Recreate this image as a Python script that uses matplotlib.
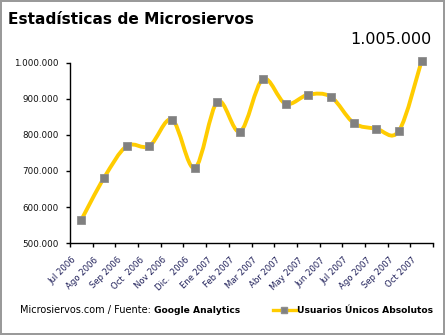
import matplotlib
matplotlib.use("Agg")
import matplotlib.pyplot as plt
import numpy as np
from matplotlib.path import Path
from matplotlib.patches import PathPatch
from matplotlib.lines import Line2D
from matplotlib.ticker import FuncFormatter, FixedLocator
from matplotlib.transforms import ScaledTranslation

# datos
meses = ["Jul 2006", "Ago 2006", "Sep 2006", "Oct  2006", "Nov 2006", "Dic.  2006",
         "Ene 2007", "Feb 2007", "Mar 2007", "Abr 2007", "May 2007", "Jun 2007",
         "Jul 2007", "Ago 2007", "Sep 2007", "Oct 2007"]
usuarios = [565000, 681000, 769000, 769000, 842000, 708000,
            892000, 809000, 954000, 886000, 911000, 905000,
            833000, 817000, 811000, 1005000]
yticks = [500000, 600000, 700000, 800000, 900000, 1000000]

W, H = 445, 335
LINE_COLOR = "#ffcc00"
MARK_COLOR = "#808080"
LABEL_COLOR = "#20205a"

plt.rcParams["font.family"] = "DejaVu Sans"

fig = plt.figure(figsize=(W / 100, H / 100), dpi=100)
fig.patch.set_facecolor("white")
fig.patch.set_edgecolor("#9a9a9a")
fig.patch.set_linewidth(1.6)

ax = fig.add_axes([70 / W, 1 - 243.3 / H, (433 - 70) / W, (243.3 - 62.5) / H])
ax.set_xlim(-0.5, len(meses) - 0.5)
ax.set_ylim(500000, 1000000)

# curva suavizada tipo Excel (Bezier a partir de los puntos)
x = np.arange(len(usuarios), dtype=float)
y = np.array(usuarios, dtype=float)
pts = np.column_stack([x, y])
ext = np.vstack([pts[0], pts, pts[-1]])
verts = [tuple(pts[0])]
codes = [Path.MOVETO]
for i in range(len(pts) - 1):
    p0, p1, p2, p3 = ext[i], ext[i + 1], ext[i + 2], ext[i + 3]
    c1 = p1 + (p2 - p0) / 6.0
    c2 = p2 - (p3 - p1) / 6.0
    verts += [tuple(c1), tuple(c2), tuple(p2)]
    codes += [Path.CURVE4] * 3
curve = PathPatch(Path(verts, codes), facecolor="none", edgecolor=LINE_COLOR,
                  linewidth=2.8, capstyle="round", joinstyle="round", clip_on=False, zorder=2)
ax.add_patch(curve)
ax.plot(x, y, linestyle="none", marker="s", markersize=5.3, markerfacecolor=MARK_COLOR,
        markeredgecolor="#8e8e8e", markeredgewidth=0.6, clip_on=False, zorder=3)

for side in ["top", "right"]:
    ax.spines[side].set_visible(False)
ax.spines["left"].set_linewidth(1.0)
ax.spines["bottom"].set_linewidth(1.0)

ax.yaxis.set_major_locator(FixedLocator(yticks))
ax.yaxis.set_major_formatter(FuncFormatter(lambda v, p: f"{int(v):,}".replace(",", ".")))
ax.tick_params(axis="y", direction="out", length=3, width=1, pad=5, labelsize=6.3,
               labelcolor="#111111")

ax.xaxis.set_major_locator(FixedLocator(np.arange(len(meses) + 1) - 0.5))
ax.xaxis.set_minor_locator(FixedLocator(x))
ax.set_xticklabels([], minor=False)
ax.set_xticklabels(meses, minor=True, rotation=45, ha="right", rotation_mode="anchor",
                   fontsize=6.1, color=LABEL_COLOR)
ax.tick_params(axis="x", which="major", direction="out", length=3, width=1)
ax.tick_params(axis="x", which="minor", length=0, pad=6)
shift = ScaledTranslation(-0.10, -0.04, fig.dpi_scale_trans)
for lbl in ax.get_xticklabels(minor=True):
    lbl.set_transform(lbl.get_transform() + shift)

fig.text(8 / W, 1 - 20 / H, "Estadísticas de Microsiervos", fontsize=11.1, fontweight="bold",
         ha="left", va="center")
fig.text(431 / W, 1 - 39 / H, "1.005.000", fontsize=11.5, ha="right", va="center")

renderer = fig.canvas.get_renderer()
t1 = fig.text(20 / W, 1 - 310.5 / H, "Microsiervos.com / Fuente: ", fontsize=7.0,
              ha="left", va="center")
bb = t1.get_window_extent(renderer)
fig.text(bb.x1 / W, 1 - 310.5 / H, "Google Analytics", fontsize=6.6, fontweight="bold",
         ha="left", va="center")

handle = Line2D([], [], color=LINE_COLOR, linewidth=2.4, marker="s", markersize=5.0,
                markerfacecolor=MARK_COLOR, markeredgecolor="#8e8e8e")
fig.legend([handle], ["Usuarios Únicos Absolutos"], loc="center right",
           bbox_to_anchor=(433 / W, 1 - 310.5 / H), frameon=False, borderpad=0,
           borderaxespad=0, handlelength=2.5, handletextpad=0.15,
           prop={"size": 6.6, "weight": "bold"})

fig.savefig("out.png", dpi=100)
